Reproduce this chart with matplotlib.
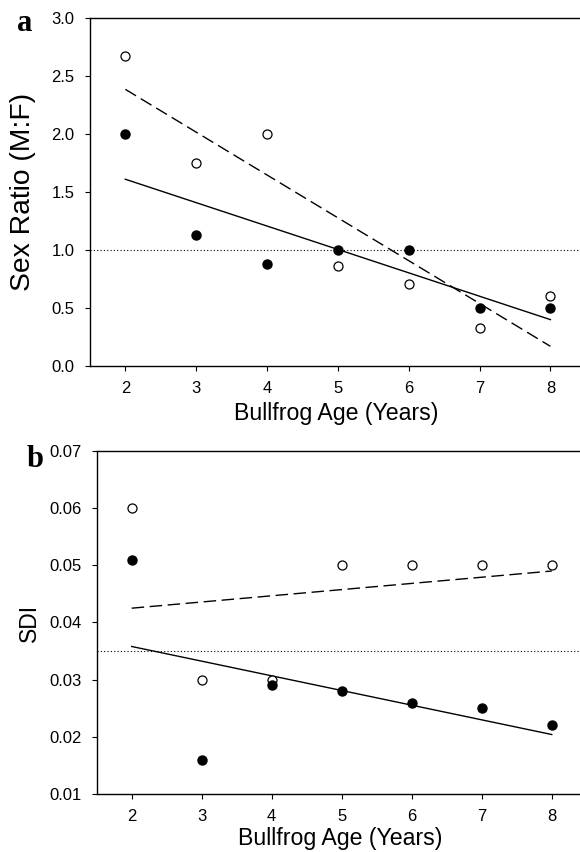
import matplotlib
matplotlib.use("Agg")
import matplotlib.pyplot as plt

# -----------------------------------------
# data
# -----------------------------------------
age = [2, 3, 4, 5, 6, 7, 8]

# panel a - sex ratio
ratio_open = [2.67, 1.75, 2.00, 0.86, 0.71, 0.33, 0.60]
ratio_filled = [2.00, 1.13, 0.88, 1.00, 1.00, 0.50, 0.50]
ratio_fit_x = [2, 8]
ratio_fit_open = [2.385, 0.17]
ratio_fit_filled = [1.61, 0.40]
ratio_ref = 1.0

# panel b - SDI
sdi_open = [0.060, 0.030, 0.030, 0.050, 0.050, 0.050, 0.050]
sdi_filled = [0.051, 0.016, 0.029, 0.028, 0.026, 0.025, 0.022]
sdi_fit_x = [2, 8]
sdi_fit_open = [0.0425, 0.049]
sdi_fit_filled = [0.0358, 0.0204]
sdi_ref = 0.035

plt.rcParams["font.family"] = ["Liberation Sans", "DejaVu Sans"]

fig = plt.figure(figsize=(5.8, 8.52), dpi=100)
ax1 = fig.add_axes([0.155, 0.5704, 0.855, 0.4085])
ax2 = fig.add_axes([0.1667, 0.0681, 0.845, 0.4026])


def draw_panel(ax, y_open, y_filled, fit_x, fit_open, fit_filled, ref):
    ax.axhline(ref, color="black", lw=0.8, ls=(0, (1, 2)))
    ax.plot(fit_x, fit_open, color="black", lw=1.0, dashes=(9, 4))
    ax.plot(fit_x, fit_filled, color="black", lw=1.0)
    ax.plot(age, y_open, "o", mfc="white", mec="black", mew=0.9, ms=6.5, ls="none")
    ax.plot(age, y_filled, "o", mfc="black", mec="black", ms=6.5, ls="none")
    ax.set_xlim(1.5, 8.5)
    ax.set_xticks(age)
    ax.spines["right"].set_visible(False)
    for s in ["left", "bottom", "top"]:
        ax.spines[s].set_linewidth(1.0)
    ax.tick_params(direction="out", length=3.6, width=0.8, labelsize=12, pad=7.5)
    ax.set_xlabel("Bullfrog Age (Years)", fontsize=16.7)


draw_panel(ax1, ratio_open, ratio_filled, ratio_fit_x, ratio_fit_open, ratio_fit_filled, ratio_ref)
ax1.set_ylim(0, 3.0)
ax1.set_yticks([0.0, 0.5, 1.0, 1.5, 2.0, 2.5, 3.0])
ax1.set_yticklabels(["0.0", "0.5", "1.0", "1.5", "2.0", "2.5", "3.0"])
ax1.set_ylabel("Sex Ratio (M:F)", fontsize=20.3)
ax1.yaxis.set_label_coords(-0.109, 0.5)
ax1.xaxis.set_label_coords(0.497, -0.104)

draw_panel(ax2, sdi_open, sdi_filled, sdi_fit_x, sdi_fit_open, sdi_fit_filled, sdi_ref)
ax2.set_ylim(0.01, 0.07)
ax2.set_yticks([0.01, 0.02, 0.03, 0.04, 0.05, 0.06, 0.07])
ax2.set_yticklabels(["0.01", "0.02", "0.03", "0.04", "0.05", "0.06", "0.07"])
ax2.set_ylabel("SDI", fontsize=16.5)
ax2.yaxis.set_label_coords(-0.114, 0.5)
ax2.xaxis.set_label_coords(0.497, -0.097)

fig.text(0.043, 0.972, "a", fontsize=22, fontweight="bold",
         family="Liberation Serif", ha="center", va="center")
fig.text(0.060, 0.461, "b", fontsize=22, fontweight="bold",
         family="Liberation Serif", ha="center", va="center")

fig.savefig("out.png", dpi=100)
